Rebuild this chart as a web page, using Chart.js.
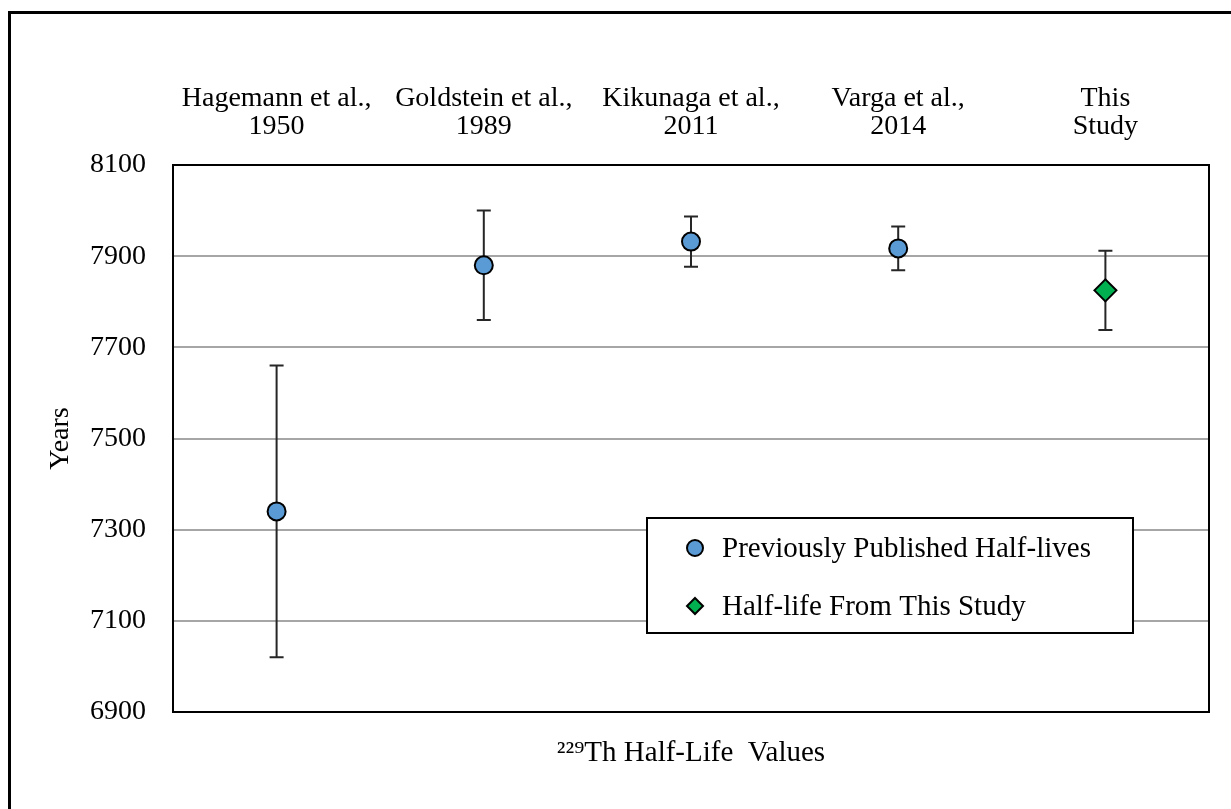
<!DOCTYPE html>
<html>
<head>
<meta charset="utf-8">
<script src="https://cdn.jsdelivr.net/npm/chart.js@4/dist/chart.umd.min.js"></script>
<style>
  html, body { margin: 0; padding: 0; background: #fff; overflow: hidden; }
  #frame { position: absolute; left: 8px; top: 11px; width: 1300px; height: 900px; border: 3px solid #000; box-sizing: border-box; }
  #wrap { position: absolute; left: 0; top: 0; width: 1231px; height: 809px; }
</style>
</head>
<body>
<div id="frame"></div>
<div id="wrap"><canvas id="c" width="1231" height="809"></canvas></div>
<script>
// ---- data ----
const categories = [
  ['Hagemann et al.,', '1950'],
  ['Goldstein et al.,', '1989'],
  ['Kikunaga et al.,', '2011'],
  ['Varga et al.,', '2014'],
  ['This', 'Study']
];
const publishedValues = [7340, 7880, 7932, 7917, null];
const publishedErrors = [320, 120, 55, 48, null];
const studyValues = [null, null, null, null, 7825];
const studyErrors = [null, null, null, null, 87];
const yTicks = [6900, 7100, 7300, 7500, 7700, 7900, 8100];
const seriesNames = ['Previously Published Half-lives', 'Half-life From This Study'];
const axisTitles = { x: '\u00B2\u00B2\u2079Th Half-Life  Values', y: 'Years' };

const FONT = 'Liberation Serif, "Times New Roman", serif';

const errorBarPlugin = {
  id: 'errorBars',
  beforeDatasetsDraw(chart) {
    const ctx = chart.ctx;
    const x = chart.scales.x, y = chart.scales.y;
    chart.data.datasets.forEach((ds) => {
      const errs = ds.errors || [];
      ds.data.forEach((v, i) => {
        if (v == null || errs[i] == null) return;
        const px = x.getPixelForValue(i);
        const top = y.getPixelForValue(v + errs[i]);
        const bot = y.getPixelForValue(v - errs[i]);
        ctx.save();
        ctx.strokeStyle = '#262626';
        ctx.lineWidth = 2;
        ctx.beginPath();
        ctx.moveTo(px, top); ctx.lineTo(px, bot);
        ctx.moveTo(px - 7, top); ctx.lineTo(px + 7, top);
        ctx.moveTo(px - 7, bot); ctx.lineTo(px + 7, bot);
        ctx.stroke();
        ctx.restore();
      });
    });
  }
};

const frameAndLegendPlugin = {
  id: 'frameLegend',
  afterDraw(chart) {
    const ctx = chart.ctx;
    const a = chart.chartArea;
    ctx.save();
    ctx.strokeStyle = '#000';
    ctx.lineWidth = 2;
    ctx.strokeRect(a.left, a.top, a.right - a.left, a.bottom - a.top);
    // legend box
    const bx = 647, by = 518, bw = 486, bh = 115;
    ctx.fillStyle = '#fff';
    ctx.fillRect(bx, by, bw, bh);
    ctx.strokeRect(bx, by, bw, bh);
    ctx.font = '29px ' + FONT;
    ctx.textBaseline = 'middle';
    ctx.textAlign = 'left';
    const rows = [548, 606];
    chart.data.datasets.forEach((ds, i) => {
      const cx = 695, cy = rows[i];
      ctx.fillStyle = ds.backgroundColor;
      ctx.strokeStyle = '#000';
      ctx.lineWidth = 2;
      ctx.beginPath();
      if (ds.pointStyle === 'rectRot') {
        const r = 8;
        ctx.moveTo(cx, cy - r); ctx.lineTo(cx + r, cy); ctx.lineTo(cx, cy + r); ctx.lineTo(cx - r, cy); ctx.closePath();
      } else {
        ctx.arc(cx, cy, 8, 0, Math.PI * 2);
      }
      ctx.fill(); ctx.stroke();
      ctx.fillStyle = '#000';
      ctx.fillText(ds.label, 722, cy + 1);
    });
    ctx.restore();
  }
};

new Chart(document.getElementById('c'), {
  type: 'line',
  data: {
    labels: categories,
    datasets: [
      {
        label: seriesNames[0], data: publishedValues, errors: publishedErrors,
        showLine: false, pointStyle: 'circle', pointRadius: 9, pointHoverRadius: 9,
        backgroundColor: '#5B9BD5', borderColor: '#000', borderWidth: 2
      },
      {
        label: seriesNames[1], data: studyValues, errors: studyErrors,
        showLine: false, pointStyle: 'rectRot', pointRadius: 11, pointHoverRadius: 11,
        backgroundColor: '#00B050', borderColor: '#000', borderWidth: 2
      }
    ]
  },
  options: {
    responsive: false,
    animation: false,
    layout: { padding: { left: 0, right: 22, top: 0, bottom: 0 } },
    plugins: { legend: { display: false }, tooltip: { enabled: false } },
    scales: {
      x: {
        type: 'category', position: 'top', offset: true,
        grid: { display: false, drawTicks: false },
        border: { display: false },
        ticks: { color: '#000', font: { family: FONT, size: 28, lineHeight: 1.0 }, padding: 24, maxRotation: 0, autoSkip: false },
        afterFit(s) { s.height = 165; }
      },
      x2: {
        type: 'category', position: 'bottom', labels: categories,
        grid: { display: false, drawTicks: false },
        border: { display: false },
        ticks: { display: false },
        title: { display: true, text: axisTitles.x, color: '#000', font: { family: FONT, size: 29, lineHeight: 1.2 }, padding: { top: 0, bottom: 38 } },
        afterFit(s) { s.height = 97; }
      },
      y: {
        min: 6900, max: 8100,
        afterBuildTicks(s) { s.ticks = yTicks.map(v => ({ value: v })); },
        grid: { color: '#A6A6A6', lineWidth: 2, drawTicks: false },
        border: { display: false },
        ticks: { color: '#000', font: { family: FONT, size: 28 }, padding: 27, callback: (v) => String(v) },
        title: { display: true, text: axisTitles.y, color: '#000', font: { family: FONT, size: 28, lineHeight: 1.2 }, padding: { top: 44, bottom: 0 } },
        afterFit(s) { s.width = 173; }
      }
    }
  },
  plugins: [errorBarPlugin, frameAndLegendPlugin]
});
</script>
</body>
</html>
